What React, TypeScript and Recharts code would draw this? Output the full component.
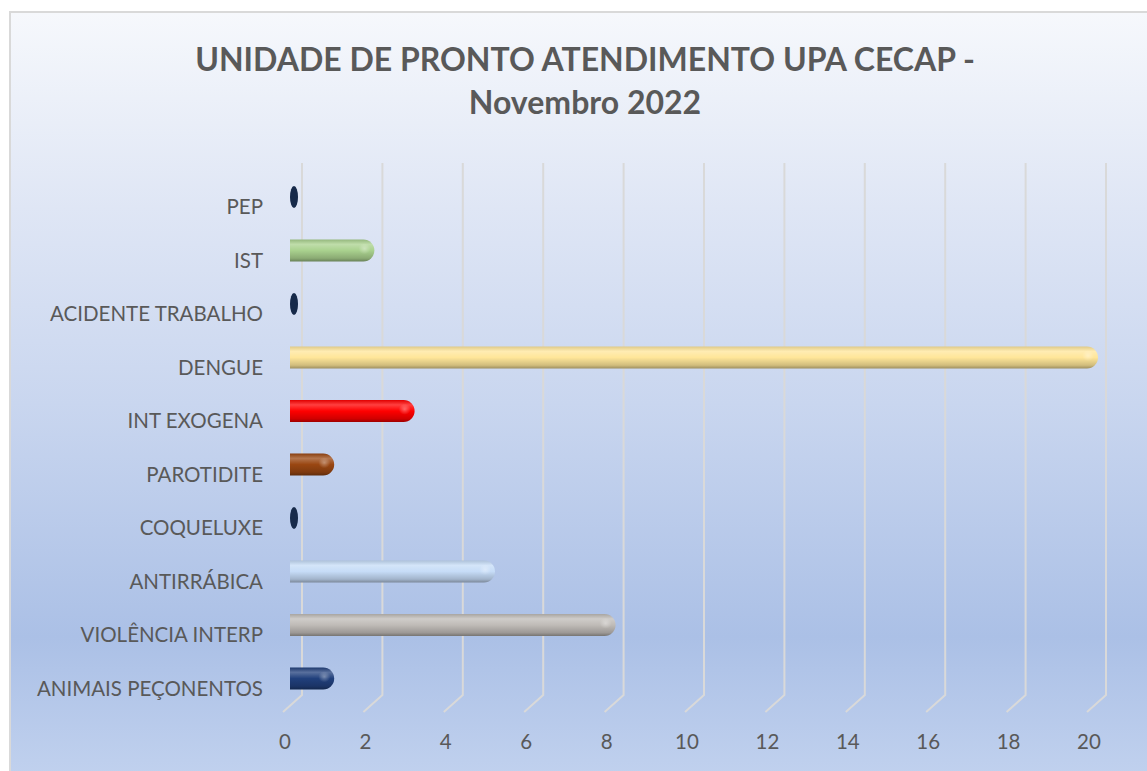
import React from "react"
import { Bar, BarChart, CartesianGrid, Cell, XAxis, YAxis } from "recharts"

const CATEGORIES = [
    "PEP",
    "IST",
    "ACIDENTE TRABALHO",
    "DENGUE",
    "INT EXOGENA",
    "PAROTIDITE",
    "COQUELUXE",
    "ANTIRRÁBICA",
    "VIOLÊNCIA INTERP",
    "ANIMAIS PEÇONENTOS",
]
const VALUES = [0, 2, 0, 20, 3, 1, 0, 5, 8, 1]
const X_TICKS = [0, 2, 4, 6, 8, 10, 12, 14, 16, 18, 20]

const BAR_COLORS = ["#1b2f52", "#a9d18e", "#1b2f52", "#ffe699", "#ff0000", "#9a4712", "#1b2f52", "#c6dcf7", "#bfbbb7", "#21407c"]

const data = CATEGORIES.map((name, i) => ({ name, value: VALUES[i] }))

const FONT = "Lato, 'Open Sans', sans-serif"
const TEXT = "#595959"

function shade(hex: string, amt: number) {
    // amt > 0 lightens toward white, amt < 0 darkens toward black
    const n = parseInt(hex.slice(1), 16)
    const ch = [(n >> 16) & 255, (n >> 8) & 255, n & 255].map((c) =>
        Math.round(amt >= 0 ? c + (255 - c) * amt : c * (1 + amt))
    )
    return `rgb(${ch[0]},${ch[1]},${ch[2]})`
}

function Cylinder(props: any) {
    const { x, y, width, height, index } = props
    const color = BAR_COLORS[index]
    const id = `cyl-${index}`
    if (!width || width < 1) {
        return <ellipse cx={x + 2} cy={y + height / 2} rx={4} ry={height / 2} fill="#172a4a" />
    }
    const r = height / 2
    const x0 = x - 2
    const xe = x + width + 2
    const d = `M${x0},${y} L${xe - r},${y} A${r},${r} 0 0 1 ${xe - r},${y + height} L${x0},${y + height} Z`
    return (
        <g>
            <defs>
                <linearGradient id={id} x1="0" y1="0" x2="0" y2="1">
                    <stop offset="0%" stopColor={shade(color, -0.12)} />
                    <stop offset="22%" stopColor={shade(color, 0.25)} />
                    <stop offset="50%" stopColor={color} />
                    <stop offset="85%" stopColor={shade(color, -0.18)} />
                    <stop offset="100%" stopColor={shade(color, -0.38)} />
                </linearGradient>
                <radialGradient id={`${id}-hl`} cx="0.5" cy="0.5" r="0.5">
                    <stop offset="0%" stopColor="#fff" stopOpacity={0.35} />
                    <stop offset="100%" stopColor="#fff" stopOpacity={0} />
                </radialGradient>
            </defs>
            <path d={d} fill={`url(#${id})`} />
            <ellipse cx={xe - r * 0.9} cy={y + height * 0.42} rx={r * 0.55} ry={r * 0.5} fill={`url(#${id}-hl)`} />
        </g>
    )
}

const gridLine = (p: any) => {
    const { x1, y1, y2, index } = p
    const bx = x1 + 10
    return (
        <path
            key={`g-${index}`}
            d={`M${bx},${y1 - 7} L${bx},${y2 - 10} L${x1 - 9},${y2 + 7}`}
            stroke="#d9d9d9"
            strokeWidth={2}
            fill="none"
        />
    )
}

const XTick = (p: any) => (
    <text x={p.x - 7} y={p.y + 36} textAnchor="middle" fill={TEXT} fontSize={20.5} fontFamily={FONT}>
        {p.payload.value}
    </text>
)

const YTick = (p: any) => (
    <text x={p.x} y={p.y + 10} dy="0.36em" textAnchor="end" fill={TEXT} fontSize={20.5} fontFamily={FONT}>
        {p.payload.value}
    </text>
)

export default function App() {
    return (
        <div style={{ position: "absolute", left: 0, top: 0, width: 1147, height: 771, overflow: "hidden", background: "#fff" }}>
            <div
                style={{
                    position: "absolute",
                    left: 9,
                    top: 11,
                    width: 1160,
                    height: 780,
                    border: "2px solid #d9d9d9",
                    background: "linear-gradient(180deg, #f6f8fc 0%, #dfe6f5 25%, #c9d6ef 50%, #abc0e6 80%, #c3d3ef 100%)",
                }}
            />
            <div
                style={{
                    position: "absolute",
                    left: 0,
                    top: 37,
                    width: 1170,
                    textAlign: "center",
                    color: TEXT,
                    fontFamily: FONT,
                    fontWeight: 700,
                    fontSize: 32,
                    lineHeight: "43px",
                }}
            >
                UNIDADE DE PRONTO ATENDIMENTO UPA CECAP -<br />
                Novembro 2022
            </div>
            <div style={{ position: "absolute", left: 0, top: 0 }}>
                <BarChart
                    width={1147}
                    height={771}
                    data={data}
                    layout="vertical"
                    margin={{ top: 170, right: 51, bottom: 36, left: 32 }}
                    barSize={22}
                >
                    <CartesianGrid horizontal={false} vertical={gridLine} />
                    <XAxis
                        type="number"
                        domain={[0, 20]}
                        ticks={X_TICKS}
                        axisLine={false}
                        tickLine={false}
                        tick={<XTick />}
                        height={30}
                        interval={0}
                    />
                    <YAxis
                        type="category"
                        dataKey="name"
                        width={260}
                        axisLine={false}
                        tickLine={false}
                        tickSize={0}
                        tickMargin={29}
                        tick={<YTick />}
                        interval={0}
                    />
                    <Bar dataKey="value" shape={<Cylinder />} isAnimationActive={false}>
                        {data.map((d, i) => (
                            <Cell key={d.name} fill={BAR_COLORS[i]} />
                        ))}
                    </Bar>
                </BarChart>
            </div>
        </div>
    )
}
